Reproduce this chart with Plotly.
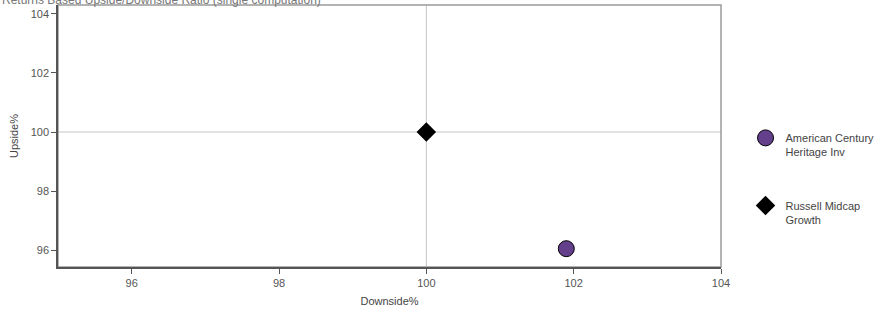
import plotly.graph_objects as go

# Data
names = ["American Century<br>Heritage Inv", "Russell Midcap<br>Growth"]
downside = [101.9, 100.0]
upside = [96.05, 100.0]
symbols = ["circle", "diamond"]
colors = ["#643f8c", "#000000"]
x_ticks = [96, 98, 100, 102, 104]
y_ticks = [96, 98, 100, 102, 104]
bench = 100
title_text = "Returns Based Upside/Downside Ratio (single computation)"

FONT = "Liberation Sans, Arial, sans-serif"

fig = go.Figure()
for i in range(len(names)):
    fig.add_trace(go.Scatter(
        x=[downside[i]], y=[upside[i]], mode="markers", name=names[i],
        legendgroup=f"g{i}",
        marker=dict(symbol=symbols[i], color=colors[i],
                    size=16 if symbols[i] == "circle" else 15,
                    line=dict(color="#000000", width=1 if symbols[i] == "circle" else 0)),
    ))

# reference lines at benchmark
fig.add_shape(type="line", xref="x", yref="y domain", x0=bench, x1=bench, y0=0, y1=1,
              line=dict(color="#c4c4c4", width=1), layer="below")
fig.add_shape(type="line", xref="x domain", yref="y", x0=0, x1=1, y0=bench, y1=bench,
              line=dict(color="#c4c4c4", width=1), layer="below")
# frame top/right
fig.add_shape(type="rect", xref="x domain", yref="y domain", x0=0, x1=1, y0=0, y1=1,
              line=dict(color="#9a9a9a", width=1.5), layer="below")

fig.add_annotation(text=title_text, xref="paper", yref="paper", x=-0.087, y=1.0, yshift=-4,
                   xanchor="left", yanchor="bottom", showarrow=False,
                   font=dict(family=FONT, size=12, color="#777777"))

tickfont = dict(family=FONT, size=11, color="#555555")
fig.update_layout(
    width=894, height=324,
    margin=dict(l=58, r=173, t=5, b=57),
    paper_bgcolor="white", plot_bgcolor="white",
    font=dict(family=FONT, size=11, color="#555555"),
    showlegend=True,
    legend=dict(x=1.037, y=0.335, xanchor="left", yanchor="middle", valign="top",
                font=dict(family=FONT, size=11, color="#444444"),
                tracegroupgap=36, itemwidth=30, bgcolor="rgba(0,0,0,0)"),
    xaxis=dict(range=[95, 104], tickvals=x_ticks, showgrid=False, zeroline=False,
               showline=True, linecolor="#555555", linewidth=1.5, automargin=False,
               ticks="outside", ticklen=5, tickcolor="#555555", tickfont=tickfont,
               title=dict(text="Downside%", standoff=9, font=dict(family=FONT, size=11, color="#444444"))),
    yaxis=dict(range=[95.43, 104.3], tickvals=y_ticks, showgrid=False, zeroline=False,
               showline=True, linecolor="#555555", linewidth=1.5, automargin=False,
               ticks="outside", ticklen=5, tickcolor="#555555", tickfont=tickfont,
               title=dict(text="Upside%", standoff=10, font=dict(family=FONT, size=11, color="#444444"))),
)

fig.write_html("out.html", config={"displayModeBar": False},
               post_script="document.body.style.margin='0';")
